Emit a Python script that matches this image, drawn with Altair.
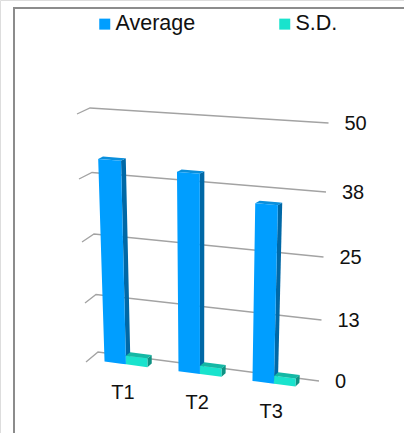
import altair as alt
import numpy as np
import pandas as pd

# Chart values
CATEGORIES = ["T1", "T2", "T3"]
SERIES = ["Average", "S.D."]
AVERAGE = [41.3, 40.0, 35.3]
SD = [1.8, 1.7, 1.6]
TICK_VALUES = [0, 12.5, 25, 37.5, 50]
TICK_LABELS = ["0", "13", "25", "38", "50"]

# Face colours per series: front, top, side
FRONT = ["#009eff", "#19e3cd"]
TOP = ["#0a8fdc", "#14b8a5"]
SIDE = ["#0068a6", "#0f9283"]
GRID = "#a3a3a3"
FRAME = "#8c8c8c"
FONT = "Liberation Sans"
INK = "#111111"

# Box of the 3D scene, one entry per tick, from the floor upwards
BACK_LEFT_X = [98, 96, 94, 92, 90]
BACK_LEFT_Y = [352, 294.5, 234, 172.5, 108]
BACK_RIGHT_X = [319, 321.5, 323.5, 326, 328.5]
BACK_RIGHT_Y = [381, 320, 257, 192, 123]
FRONT_LEFT_X = [86, 85, 82, 79, 77]
FRONT_LEFT_Y = [362, 303, 242, 179, 114]


def project(u, v, w):
    """Map category position u, value v and depth w (0 back, 1 front) to the page."""
    blx = np.interp(v, TICK_VALUES, BACK_LEFT_X)
    bly = np.interp(v, TICK_VALUES, BACK_LEFT_Y)
    brx = np.interp(v, TICK_VALUES, BACK_RIGHT_X)
    bry = np.interp(v, TICK_VALUES, BACK_RIGHT_Y)
    flx = np.interp(v, TICK_VALUES, FRONT_LEFT_X)
    fly = np.interp(v, TICK_VALUES, FRONT_LEFT_Y)
    frx = brx + (flx - blx) * 0.9
    fry = bry + (fly - bly) * 1.0
    lx, ly = blx + (flx - blx) * w, bly + (fly - bly) * w
    rx, ry = brx + (frx - brx) * w, bry + (fry - bry) * w
    return float(lx + (rx - lx) * u), float(ly + (ry - ly) * u)


def envelope(points):
    """Upper and lower edge of a convex polygon at each of its vertex x positions."""
    xs = sorted({round(p[0], 3) for p in points})
    rows = []
    n = len(points)
    for x in xs:
        ys = []
        for i in range(n):
            (x0, y0), (x1, y1) = points[i], points[(i + 1) % n]
            lo, hi = min(x0, x1), max(x0, x1)
            if lo - 0.001 <= x <= hi + 0.001:
                if abs(x1 - x0) < 1e-6:
                    ys += [y0, y1]
                else:
                    ys.append(y0 + (y1 - y0) * (x - x0) / (x1 - x0))
        rows.append((x, min(ys), max(ys)))
    return rows


BAR_WIDTH = 0.29 / 3
BAR_START = 0.21
DEPTH_FRONT = 0.75
DEPTH_BACK = 0.38

shade_rows, front_rows = [], []
face_id = 0


def add_face(rows, points, **extra):
    global face_id
    face_id += 1
    for x, top, bottom in envelope(points):
        rows.append({"face": face_id, "x": x, "y": top, "y2": bottom, **extra})


for k, (name, values) in enumerate(zip(SERIES, [AVERAGE, SD])):
    for i, value in enumerate(values):
        u0 = (i + BAR_START) / 3 + k * BAR_WIDTH
        u1 = u0 + BAR_WIDTH
        wf, wb = DEPTH_FRONT, DEPTH_BACK
        add_face(
            shade_rows,
            [project(u1, 0, wf), project(u1, value, wf), project(u1, value, wb), project(u1, 0, wb)],
            fill=SIDE[k],
        )
        add_face(
            shade_rows,
            [project(u0, value, wf), project(u0, value, wb), project(u1, value, wb), project(u1, value, wf)],
            fill=TOP[k],
        )
        add_face(
            front_rows,
            [project(u0, 0, wf), project(u0, value, wf), project(u1, value, wf), project(u1, 0, wf)],
            series=name,
        )

grid_rows = []
for v in TICK_VALUES:
    for n, (u, w) in enumerate([(0, 1), (0, 0), (1, 0)]):
        px, py = project(u, v, w)
        grid_rows.append({"tick": v, "x": px, "y": py, "n": n})

tick_rows = []
for v, label in zip(TICK_VALUES, TICK_LABELS):
    px, py = project(1, v, 0)
    tick_rows.append({"x": px, "y": py, "label": label})

cat_rows = []
for i, name in enumerate(CATEGORIES):
    px, py = project((i + 0.5) / 3, 0, 1)
    cat_rows.append({"x": px, "y": py, "label": name})

X = alt.X("x:Q", axis=None, scale=alt.Scale(domain=[0, 404], range=[0, 404], nice=False, zero=False))
Y = alt.Y("y:Q", axis=None, stack=None, scale=alt.Scale(domain=[0, 433], range=[0, 433], nice=False, zero=False))

frame = (
    alt.Chart(pd.DataFrame({"x": [14, 14, 404], "y": [433, 8, 8], "n": [0, 1, 2]}))
    .mark_line(color=FRAME, strokeWidth=2, clip=False)
    .encode(x=X, y=Y, order="n:Q")
)

grid = (
    alt.Chart(pd.DataFrame(grid_rows))
    .mark_line(color=GRID, strokeWidth=1.3)
    .encode(x=X, y=Y, detail="tick:N", order="n:Q")
)

shade = (
    alt.Chart(pd.DataFrame(shade_rows))
    .mark_area(interpolate="linear")
    .encode(x=X, y=Y, y2="y2:Q", detail="face:N", fill=alt.Fill("fill:N", scale=None))
)

front = (
    alt.Chart(pd.DataFrame(front_rows))
    .mark_area(interpolate="linear")
    .encode(
        x=X,
        y=Y,
        y2="y2:Q",
        detail="face:N",
        fill=alt.Fill(
            "series:N",
            scale=alt.Scale(domain=SERIES, range=FRONT),
            legend=alt.Legend(
                orient="none",
                legendX=94,
                legendY=13,
                direction="horizontal",
                title=None,
                symbolType="square",
                symbolSize=121,
                symbolStrokeWidth=0,
                labelFont=FONT,
                labelFontSize=21.5,
                labelColor=INK,
                labelOffset=0,
                columnPadding=78,
                padding=0,
            ),
        ),
    )
)

ticks = (
    alt.Chart(pd.DataFrame(tick_rows))
    .mark_text(font=FONT, fontSize=20, align="left", baseline="middle", dx=16, dy=1, color=INK)
    .encode(x=X, y=Y, text="label:N")
)

cats = (
    alt.Chart(pd.DataFrame(cat_rows))
    .mark_text(font=FONT, fontSize=20, align="center", baseline="middle", dy=26, color=INK)
    .encode(x=X, y=Y, text="label:N")
)

chart = (
    alt.layer(frame, grid, shade, front, ticks, cats)
    .properties(width=404, height=433, padding=0, autosize=alt.AutoSizeParams(type="none"))
    .configure_view(stroke=None)
    .configure(background="white")
)

chart.save("out.html", embed_options={"renderer": "svg", "actions": False})
